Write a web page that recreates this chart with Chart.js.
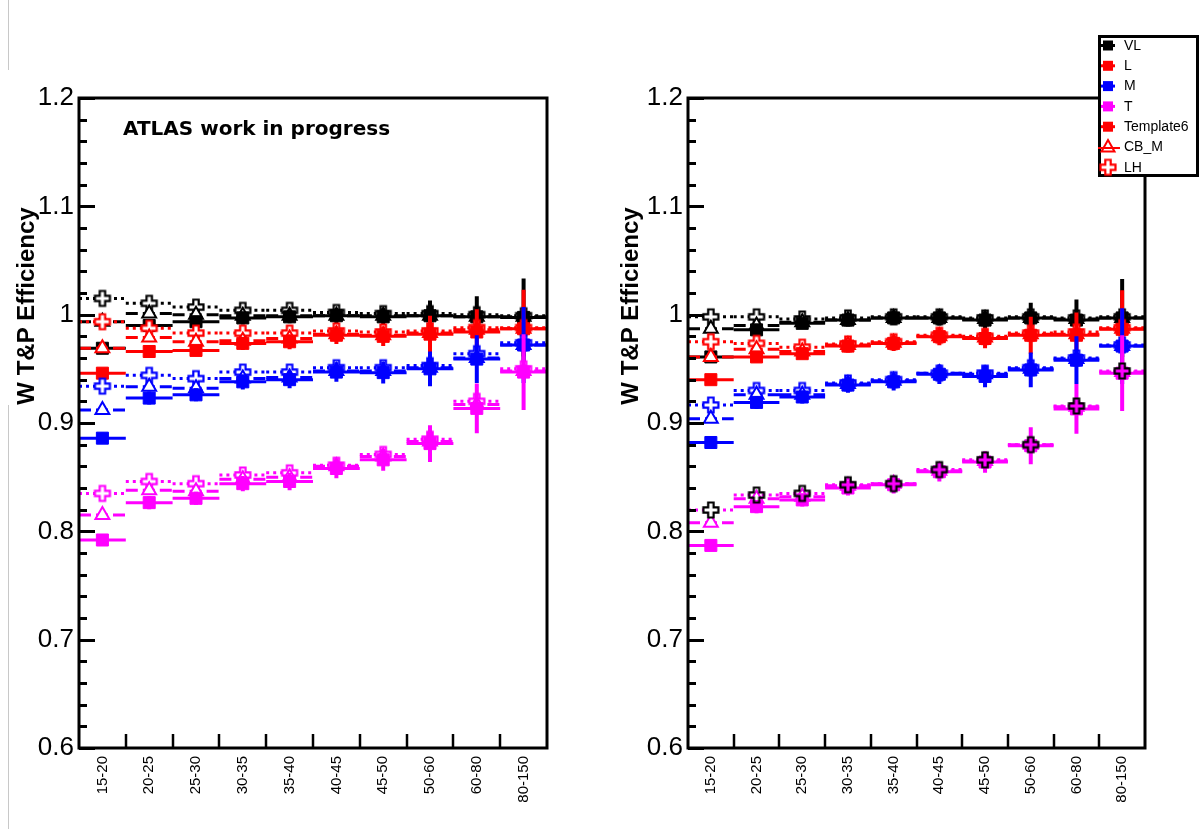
<!DOCTYPE html>
<html><head><meta charset="utf-8">
<script src="https://cdn.jsdelivr.net/npm/chart.js@4.4.0/dist/chart.umd.min.js"></script>
<style>
html,body{margin:0;padding:0;background:#fff;}
#wrap{position:relative;width:1203px;height:829px;overflow:hidden;background:#fff;}
canvas{position:absolute;top:0;}
#cL{left:0;} #cR{left:600px;}
.gl{position:absolute;width:1px;background:#c8c8c8;}
</style></head><body>
<div id="wrap">
<canvas id="cL" width="600" height="829"></canvas>
<canvas id="cR" width="603" height="829"></canvas>
<div class="gl" style="left:8px;top:0;height:70px"></div>
<div class="gl" style="left:8px;top:405px;height:424px"></div>
</div>
<script>
// ---------------- data ----------------
const CATEGORIES = ['15-20','20-25','25-30','30-35','35-40','40-45','45-50','50-60','60-80','80-150'];
const Y_TICK_LABELS = ['0.6','0.7','0.8','0.9','1','1.1','1.2'];
const LEGEND_LABELS = ['VL','L','M','T','Template6','CB_M','LH'];
const Y_TITLE = 'W T&P Efficiency';
const PANEL_TEXT = 'ATLAS work in progress';

// left panel
const VL_TEMPLATE6_LEFT = [0.969, 0.990, 0.9935, 0.997, 0.998, 0.999, 0.998, 0.999, 0.998, 0.9975];
const VL_CBM_LEFT       = [0.9935, 1.001, 1.000, 0.999, 0.999, 0.999, 0.999, 0.999, 0.998, 0.998];
const VL_LH_LEFT        = [1.015, 1.0105, 1.007, 1.004, 1.004, 1.002, 1.001, 1.001, 1.000, 0.999];
const L_TEMPLATE6_LEFT  = [0.946, 0.966, 0.967, 0.9735, 0.975, 0.981, 0.980, 0.982, 0.984, 0.987];
const L_CBM_LEFT        = [0.969, 0.979, 0.975, 0.976, 0.978, 0.982, 0.981, 0.983, 0.986, 0.987];
const L_LH_LEFT         = [0.9935, 0.9875, 0.983, 0.983, 0.983, 0.985, 0.984, 0.985, 0.988, 0.988];
const M_TEMPLATE6_LEFT  = [0.886, 0.923, 0.926, 0.938, 0.940, 0.947, 0.9465, 0.950, 0.959, 0.972];
const M_CBM_LEFT        = [0.912, 0.9335, 0.932, 0.941, 0.942, 0.948, 0.948, 0.951, 0.960, 0.972];
const M_LH_LEFT         = [0.934, 0.944, 0.941, 0.947, 0.947, 0.951, 0.951, 0.953, 0.964, 0.974];
const T_TEMPLATE6_LEFT  = [0.792, 0.8265, 0.8305, 0.844, 0.846, 0.858, 0.866, 0.881, 0.9135, 0.947];
const T_CBM_LEFT        = [0.815, 0.838, 0.837, 0.848, 0.850, 0.860, 0.869, 0.883, 0.917, 0.948];
const T_LH_LEFT         = [0.835, 0.846, 0.844, 0.852, 0.854, 0.861, 0.871, 0.885, 0.920, 0.950];

// right panel
const VL_TEMPLATE6_RIGHT = [0.961, 0.986, 0.992, 0.995, 0.997, 0.997, 0.995, 0.997, 0.995, 0.997];
const VL_CBM_RIGHT       = [0.987, 0.990, 0.993, 0.995, 0.997, 0.997, 0.996, 0.997, 0.996, 0.997];
const VL_LH_RIGHT        = [0.998, 0.998, 0.996, 0.997, 0.998, 0.998, 0.997, 0.998, 0.997, 0.998];
const L_TEMPLATE6_RIGHT  = [0.940, 0.961, 0.964, 0.971, 0.9735, 0.9797, 0.978, 0.981, 0.981, 0.9865];
const L_CBM_RIGHT        = [0.961, 0.968, 0.966, 0.972, 0.974, 0.980, 0.979, 0.982, 0.982, 0.987];
const L_LH_RIGHT         = [0.975, 0.9735, 0.970, 0.973, 0.975, 0.981, 0.980, 0.983, 0.984, 0.988];
const M_TEMPLATE6_RIGHT  = [0.882, 0.919, 0.924, 0.935, 0.938, 0.945, 0.943, 0.949, 0.958, 0.971];
const M_CBM_RIGHT        = [0.904, 0.926, 0.926, 0.936, 0.939, 0.946, 0.945, 0.950, 0.959, 0.971];
const M_LH_RIGHT         = [0.9166, 0.930, 0.930, 0.937, 0.940, 0.946, 0.946, 0.951, 0.960, 0.972];
const T_TEMPLATE6_RIGHT  = [0.787, 0.8228, 0.829, 0.840, 0.843, 0.855, 0.864, 0.879, 0.913, 0.946];
const T_CBM_RIGHT        = [0.808, 0.830, 0.832, 0.842, 0.844, 0.856, 0.865, 0.880, 0.915, 0.947];
const T_LH_RIGHT         = [0.8197, 0.8335, 0.835, 0.843, 0.844, 0.857, 0.866, 0.880, 0.9157, 0.948];

// statistical errors of the Template6 points
const ERR_VL = [0.004, 0.005, 0.005, 0.006, 0.006, 0.007, 0.008, 0.014, 0.019, 0.036];
const ERR_L  = [0.004, 0.005, 0.005, 0.006, 0.007, 0.008, 0.009, 0.017, 0.021, 0.036];
const ERR_M  = [0.005, 0.006, 0.006, 0.007, 0.008, 0.009, 0.010, 0.016, 0.022, 0.035];
const ERR_T  = [0.005, 0.006, 0.006, 0.007, 0.008, 0.009, 0.010, 0.017, 0.023, 0.035];

// ---------------- styling ----------------
const COLORS = {VL:'#000000', L:'#ff0000', M:'#0000ff', T:'#ff00ff'};
const DASH = {T6:[], CB:[12,5], LH:[3,4]};
const WPS = ['VL','L','M','T'];

function crossImg(stroke, fill) {
  const S = 20, c = document.createElement('canvas'); c.width = S; c.height = S;
  const g = c.getContext('2d');
  const h = 7.5, w = 2.7, o = S/2;
  const p = [[-w,-h],[w,-h],[w,-w],[h,-w],[h,w],[w,w],[w,h],[-w,h],[-w,w],[-h,w],[-h,-w],[-w,-w]];
  g.beginPath();
  p.forEach(([a,b],i)=> i ? g.lineTo(o+a,o+b) : g.moveTo(o+a,o+b));
  g.closePath();
  if (fill) { g.fillStyle = fill; g.fill(); }
  g.lineWidth = 2.2; g.strokeStyle = stroke; g.lineJoin = 'miter'; g.stroke();
  return c;
}

function hSeg(vals, color, dash) {
  const pts = [];
  vals.forEach((v,i)=>{ pts.push({x:i,y:v},{x:i+1,y:v},{x:i+1,y:null}); });
  return {data:pts, showLine:true, borderColor:color, borderWidth:3, borderDash:dash,
          pointRadius:0, fill:false, spanGaps:false, tension:0, clip:false};
}
function vBars(vals, errs, color) {
  const pts = [];
  vals.forEach((v,i)=>{ pts.push({x:i+0.5,y:v-errs[i]},{x:i+0.5,y:v+errs[i]},{x:i+0.5,y:null}); });
  return {data:pts, showLine:true, borderColor:color, borderWidth:4,
          pointRadius:0, fill:false, spanGaps:false, tension:0, clip:false};
}
function markers(vals, color, method, special) {
  const d = {data: vals.map((v,i)=>({x:i+0.5,y:v})), showLine:false, clip:false};
  if (method === 'T6') {
    Object.assign(d, {pointStyle:'rect', pointRadius:8.5, pointBackgroundColor:color, pointBorderColor:color, pointBorderWidth:1});
  } else if (method === 'CB') {
    Object.assign(d, {pointStyle:'triangle', pointRadius:8, pointBackgroundColor:'#ffffff', pointBorderColor:color, pointBorderWidth:2});
  } else {
    const styles = special
      ? vals.map((v,i)=> i===0 ? crossImg(special,'#ffffff') : crossImg(special,null))
      : vals.map(()=> crossImg(color,'#ffffff'));
    Object.assign(d, {pointStyle:styles, pointRadius:8, pointBackgroundColor:'#fff', pointBorderColor:color});
  }
  return d;
}

function buildDatasets(panel) {
  const ds = [];
  const push = d => { d.order = -ds.length; ds.push(d); };
  WPS.forEach(wp => {
    const col = COLORS[wp];
    ['LH','CB','T6'].forEach(m => {
      const vals = panel[m][wp];
      push(hSeg(vals, col, DASH[m]));
      if (m === 'T6') push(vBars(vals, panel.ERR[wp], col));
      if (!(m === 'LH' && wp === panel.lastLH)) push(markers(vals, col, m));
    });
  });
  if (panel.lastLH) push(markers(panel.LH[panel.lastLH], COLORS[panel.lastLH], 'LH', '#000000'));
  return ds;
}

const ERRS = {VL:ERR_VL, L:ERR_L, M:ERR_M, T:ERR_T};
const LEFT_PANEL = {
  T6: {VL:VL_TEMPLATE6_LEFT, L:L_TEMPLATE6_LEFT, M:M_TEMPLATE6_LEFT, T:T_TEMPLATE6_LEFT},
  CB: {VL:VL_CBM_LEFT, L:L_CBM_LEFT, M:M_CBM_LEFT, T:T_CBM_LEFT},
  LH: {VL:VL_LH_LEFT, L:L_LH_LEFT, M:M_LH_LEFT, T:T_LH_LEFT},
  ERR: ERRS, lastLH: null
};
const RIGHT_PANEL = {
  T6: {VL:VL_TEMPLATE6_RIGHT, L:L_TEMPLATE6_RIGHT, M:M_TEMPLATE6_RIGHT, T:T_TEMPLATE6_RIGHT},
  CB: {VL:VL_CBM_RIGHT, L:L_CBM_RIGHT, M:M_CBM_RIGHT, T:T_CBM_RIGHT},
  LH: {VL:VL_LH_RIGHT, L:L_LH_RIGHT, M:M_LH_RIGHT, T:T_LH_RIGHT},
  ERR: ERRS, lastLH: 'T'
};

function decoPlugin(cfg) {
  return {
    id: 'deco',
    afterDatasetsDraw(chart) {
      const {ctx, chartArea:a, scales:{x, y}} = chart;
      ctx.save();
      ctx.strokeStyle = '#000'; ctx.lineCap = 'butt';
      ctx.lineWidth = 3;
      for (let k = 0; k <= 30; k++) {
        const v = 0.6 + k*0.02;
        const py = Math.round(y.getPixelForValue(v)) + 0.5;
        const len = (k % 5 === 0) ? 16 : 8;
        ctx.beginPath(); ctx.moveTo(a.left, py); ctx.lineTo(a.left + len, py); ctx.stroke();
      }
      ctx.lineWidth = 2.5;
      for (let i = 1; i < CATEGORIES.length; i++) {
        const px = Math.round(x.getPixelForValue(i));
        ctx.beginPath(); ctx.moveTo(px, a.bottom); ctx.lineTo(px, a.bottom - 14); ctx.stroke();
      }
      ctx.lineWidth = 3;
      ctx.strokeRect(a.left, a.top, a.right - a.left, a.bottom - a.top);
      ctx.restore();
    },
    afterDraw(chart) {
      const {ctx} = chart;
      ctx.save();
      ctx.fillStyle = '#000';
      ctx.translate(cfg.titleX, 306);
      ctx.rotate(-Math.PI/2);
      ctx.font = 'bold 24px "Liberation Sans", Arial, sans-serif';
      ctx.textAlign = 'center'; ctx.textBaseline = 'middle';
      ctx.fillText(Y_TITLE, 0, 0);
      ctx.restore();
      if (cfg.text) {
        ctx.save();
        ctx.fillStyle = '#000';
        ctx.font = 'bold 20px "DejaVu Sans", sans-serif';
        ctx.textAlign = 'left'; ctx.textBaseline = 'middle';
        ctx.fillText(PANEL_TEXT, 123, 130);
        ctx.restore();
      }
      if (cfg.legend) drawLegend(ctx);
    }
  };
}

function drawLegend(ctx) {
  const L = 498, T = 35, W = 101, H = 142;
  ctx.save();
  ctx.fillStyle = '#fff'; ctx.fillRect(L, T, W, H);
  ctx.strokeStyle = '#000'; ctx.lineWidth = 3; ctx.strokeRect(L + 1.5, T + 1.5, W - 3, H - 3);
  const cols = ['#000000','#ff0000','#0000ff','#ff00ff','#ff0000','#ff0000','#ff0000'];
  const mx = 508;
  LEGEND_LABELS.forEach((lab, i) => {
    const yy = 45.5 + i * 20.3;
    const c = cols[i];
    if (i <= 4) {
      ctx.strokeStyle = c; ctx.lineWidth = 3;
      ctx.beginPath(); ctx.moveTo(mx - 7, yy); ctx.lineTo(mx + 7, yy); ctx.stroke();
      ctx.fillStyle = c; ctx.fillRect(mx - 5, yy - 5, 10, 10);
    } else if (i === 5) {
      ctx.strokeStyle = c; ctx.lineWidth = 2;
      ctx.beginPath(); ctx.moveTo(mx, yy - 7); ctx.lineTo(mx + 6.5, yy + 4.5); ctx.lineTo(mx - 6.5, yy + 4.5); ctx.closePath(); ctx.stroke();
      ctx.beginPath(); ctx.moveTo(mx - 10, yy + 1); ctx.lineTo(mx + 10, yy + 1); ctx.stroke();
      ctx.fillStyle = c; ctx.fillRect(mx + 10, yy, 2, 2);
    } else {
      ctx.drawImage(crossImg(c, '#fff'), mx - 10, yy - 10);
    }
    ctx.fillStyle = '#000';
    ctx.font = '14px "Liberation Sans", Arial, sans-serif';
    ctx.textAlign = 'left'; ctx.textBaseline = 'middle';
    ctx.fillText(lab, 524, yy + 0.5);
  });
  ctx.restore();
}

function makeChart(id, panel, yWidth, rightPad, cfg) {
  return new Chart(document.getElementById(id), {
    type: 'line',
    data: { datasets: buildDatasets(panel) },
    options: {
      responsive: false, animation: false, events: [],
      layout: { padding: { left: 0, top: 98, right: rightPad, bottom: 0 } },
      plugins: { legend: {display:false}, tooltip: {enabled:false}, title: {display:false} },
      scales: {
        x: {
          type: 'linear', min: 0, max: CATEGORIES.length,
          grid: {display:false, drawTicks:false, tickLength:0},
          border: {display:false},
          afterBuildTicks: axis => { axis.ticks = CATEGORIES.map((c, i) => ({value: i + 0.5})); },
          afterFit: s => { s.height = 81; },
          ticks: {
            autoSkip: false, minRotation: 90, maxRotation: 90, padding: 8,
            color: '#000', font: {family: '"Liberation Sans", Arial, sans-serif', size: 15},
            callback: (v, i) => CATEGORIES[i]
          }
        },
        y: {
          type: 'linear', min: 0.6, max: 1.2,
          grid: {display:false, drawTicks:false, tickLength:0},
          border: {display:false},
          afterBuildTicks: axis => { axis.ticks = Y_TICK_LABELS.map(t => ({value: parseFloat(t)})); },
          afterFit: s => { s.width = yWidth; },
          ticks: {
            autoSkip: false, padding: 5, color: '#000',
            font: {family: '"Liberation Sans", Arial, sans-serif', size: 26},
            callback: (v, i) => Y_TICK_LABELS[i]
          }
        }
      }
    },
    plugins: [decoPlugin(cfg)]
  });
}

makeChart('cL', LEFT_PANEL, 79, 53, {titleX: 27, text: true, legend: false});
makeChart('cR', RIGHT_PANEL, 88, 58, {titleX: 31, text: false, legend: true});
</script>
</body></html>
